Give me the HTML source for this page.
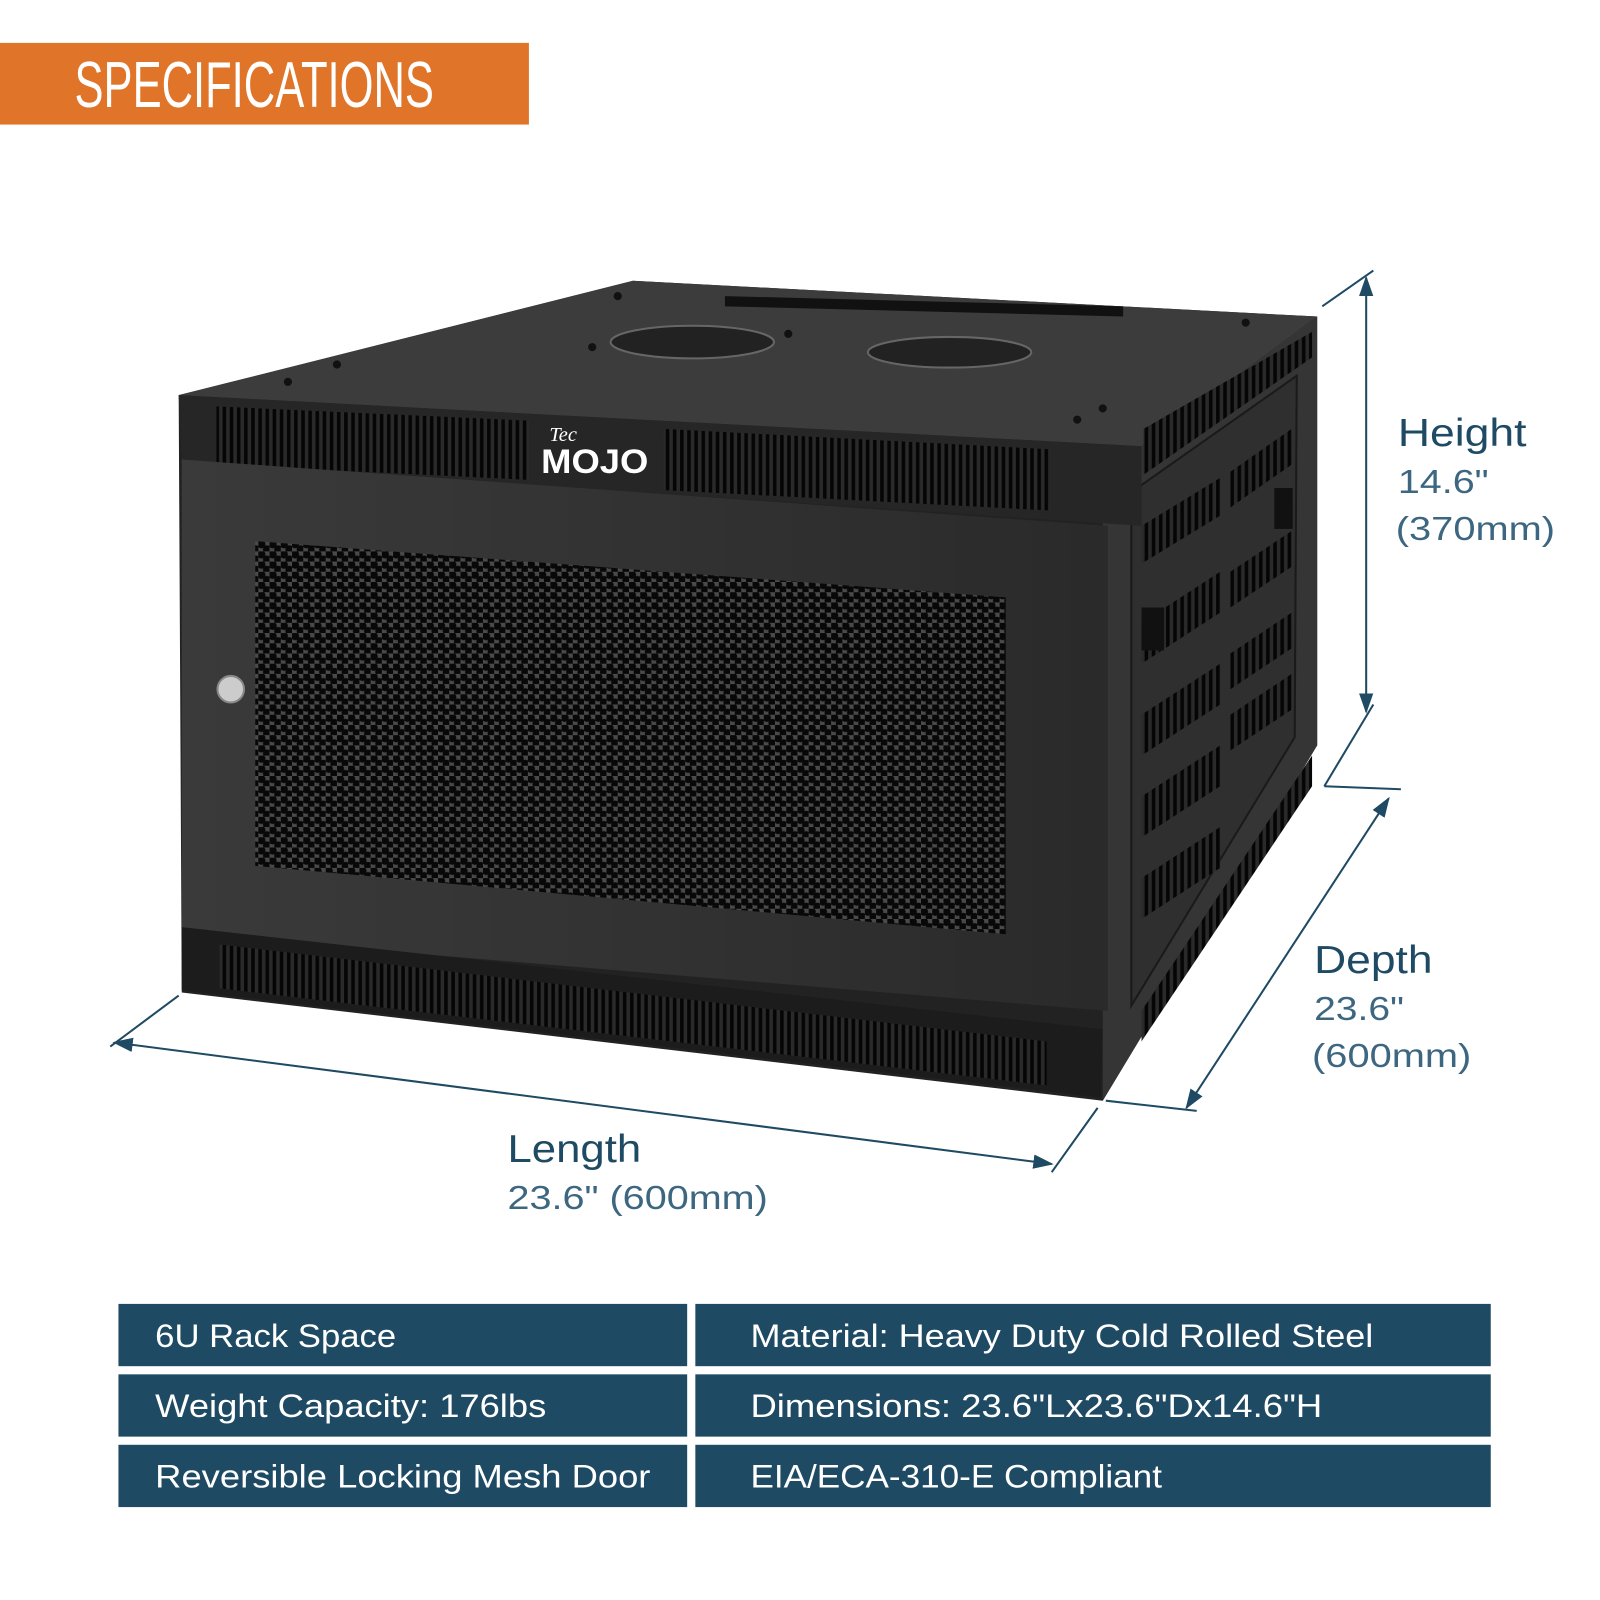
<!DOCTYPE html>
<html><head><meta charset="utf-8"><style>
html,body{margin:0;padding:0;background:#fff;width:1600px;height:1600px;overflow:hidden}
svg{display:block}
</style></head><body>
<svg width="1600" height="1600" viewBox="0 0 1567 1567" xmlns="http://www.w3.org/2000/svg" font-family="'Liberation Sans', sans-serif">
<defs>
<pattern id="vent" width="7" height="10" patternUnits="userSpaceOnUse"><rect width="7" height="10" fill="#2a2a2a"/><rect x="1" width="3.5" height="10" fill="#050505"/></pattern>
<pattern id="mesh" width="11" height="10" patternUnits="userSpaceOnUse"><rect width="11" height="10" fill="#4a4a4a"/><circle cx="3" cy="3" r="4" fill="#080808"/><circle cx="8.5" cy="8" r="4" fill="#080808"/></pattern>
<linearGradient id="door" x1="0" y1="0" x2="1" y2="0"><stop offset="0" stop-color="#3a3a3a"/><stop offset="1" stop-color="#2a2a2a"/></linearGradient>
<marker id="ar" viewBox="0 0 10 10" refX="9" refY="5" markerWidth="10" markerHeight="10" orient="auto-start-reverse"><path d="M0,1.5 L10,5 L0,8.5 z" fill="#1f4a63"/></marker>
</defs>
<rect x="0" y="42" width="518" height="80" fill="#e07428"/>
<text x="73" y="105" font-size="64" fill="#fff" textLength="352" lengthAdjust="spacingAndGlyphs">SPECIFICATIONS</text>

<polygon points="175,387 620,275 1290,310 1290,730 1080,1078 178,972" fill="#222"/>
<polygon points="175,387 620,275 1290,310 1118,437" fill="#3c3c3c"/>
<polygon points="710,290 1100,300 1100,310 710,300" fill="#111"/>
<ellipse cx="678" cy="335" rx="80" ry="16" fill="#222" stroke="#666" stroke-width="2"/>
<ellipse cx="930" cy="345" rx="80" ry="15" fill="#222" stroke="#666" stroke-width="2"/>
<g fill="#111"><circle cx="330" cy="357" r="4"/><circle cx="605" cy="290" r="4"/><circle cx="1220" cy="316" r="4"/><circle cx="1080" cy="400" r="4"/><circle cx="1055" cy="411" r="4"/><circle cx="282" cy="374" r="4"/><circle cx="772" cy="327" r="4"/><circle cx="580" cy="340" r="4"/></g>
<polygon points="1118,437 1290,310 1290,730 1080,1078 1080,470" fill="#353535"/>
<polygon points="1108,482 1270,368 1268,722 1108,985" fill="#2f2f2f" stroke="#1a1a1a" stroke-width="2"/>
<polygon points="1120,420 1285,325 1285,350 1120,465" fill="url(#vent)"/>
<g fill="url(#vent)">
<polygon points="1118,515 1195,468 1195,505 1118,552"/><polygon points="1205,462 1265,420 1265,455 1205,497"/>
<polygon points="1118,610 1195,560 1195,600 1118,650"/><polygon points="1205,560 1265,520 1265,555 1205,595"/>
<polygon points="1118,700 1195,650 1195,690 1118,740"/><polygon points="1205,640 1265,600 1265,635 1205,675"/>
<polygon points="1118,780 1195,730 1195,770 1118,820"/><polygon points="1205,700 1265,660 1265,695 1205,735"/>
<polygon points="1118,860 1195,810 1195,850 1118,900"/>
<polygon points="1118,990 1285,740 1285,770 1118,1020"/>
</g>
<rect x="1118" y="595" width="22" height="42" fill="#111"/><rect x="1248" y="478" width="18" height="40" fill="#111"/>
<polygon points="175,387 1118,437 1118,515 178,452" fill="#262626"/>
<polygon points="212,398 518,412 518,470 212,455" fill="url(#vent)"/>
<polygon points="650,420 1028,440 1028,500 650,480" fill="url(#vent)"/>
<text x="538" y="432" font-size="20" fill="#fff" font-family="'Liberation Serif',serif" font-style="italic">Tec</text>
<text x="530" y="463" font-size="34" font-weight="bold" fill="#fff" textLength="105" lengthAdjust="spacingAndGlyphs">MOJO</text>
<polygon points="178,450 1085,515 1085,990 178,915" fill="url(#door)"/>
<polygon points="250,530 985,585 985,915 250,848" fill="url(#mesh)"/>
<circle cx="226" cy="675" r="13" fill="#ccc" stroke="#888" stroke-width="2"/>
<polygon points="178,908 1080,1008 1078,1075 178,970" fill="#1c1c1c"/>
<polygon points="215,925 1025,1020 1025,1063 215,968" fill="url(#vent)"/>

<g stroke="#1f4a63" stroke-width="2" fill="none">
<line x1="1295" y1="300" x2="1345" y2="265"/>
<line x1="1338" y1="272" x2="1338" y2="697" marker-start="url(#ar)" marker-end="url(#ar)"/>
<line x1="1297" y1="770" x2="1345" y2="690"/>
<line x1="1297" y1="770" x2="1372" y2="773"/>
<line x1="1360" y1="782" x2="1162" y2="1085" marker-start="url(#ar)" marker-end="url(#ar)"/>
<line x1="1083" y1="1078" x2="1172" y2="1088"/>
<line x1="108" y1="1025" x2="175" y2="975"/>
<line x1="112" y1="1021" x2="1030" y2="1140" marker-start="url(#ar)" marker-end="url(#ar)"/>
<line x1="1030" y1="1148" x2="1075" y2="1085"/>
</g>
<g font-size="38" fill="#1f4a63">
<text x="1369" y="437" textLength="126" lengthAdjust="spacingAndGlyphs">Height</text>
<text x="1287" y="953" textLength="116" lengthAdjust="spacingAndGlyphs">Depth</text>
<text x="497" y="1138" textLength="131" lengthAdjust="spacingAndGlyphs">Length</text>
</g>
<g font-size="33" fill="#3d6680">
<text x="1369" y="483" textLength="89" lengthAdjust="spacingAndGlyphs">14.6"</text>
<text x="1367" y="529" textLength="156" lengthAdjust="spacingAndGlyphs">(370mm)</text>
<text x="1287" y="999" textLength="88" lengthAdjust="spacingAndGlyphs">23.6"</text>
<text x="1285" y="1045" textLength="156" lengthAdjust="spacingAndGlyphs">(600mm)</text>
<text x="497" y="1184" textLength="255" lengthAdjust="spacingAndGlyphs">23.6" (600mm)</text>
</g>

<g fill="#1f4a63">
<rect x="116" y="1277" width="557" height="61"/><rect x="681" y="1277" width="779" height="61"/>
<rect x="116" y="1346" width="557" height="61"/><rect x="681" y="1346" width="779" height="61"/>
<rect x="116" y="1415" width="557" height="61"/><rect x="681" y="1415" width="779" height="61"/>
</g>
<g font-size="32" fill="#fff">
<text x="152" y="1319" textLength="236" lengthAdjust="spacingAndGlyphs">6U Rack Space</text>
<text x="735" y="1319" textLength="610" lengthAdjust="spacingAndGlyphs">Material: Heavy Duty Cold Rolled Steel</text>
<text x="152" y="1388" textLength="383" lengthAdjust="spacingAndGlyphs">Weight Capacity: 176lbs</text>
<text x="735" y="1388" textLength="560" lengthAdjust="spacingAndGlyphs">Dimensions: 23.6"Lx23.6"Dx14.6"H</text>
<text x="152" y="1457" textLength="485" lengthAdjust="spacingAndGlyphs">Reversible Locking Mesh Door</text>
<text x="735" y="1457" textLength="403" lengthAdjust="spacingAndGlyphs">EIA/ECA-310-E Compliant</text>
</g>
</svg>
</body></html>
